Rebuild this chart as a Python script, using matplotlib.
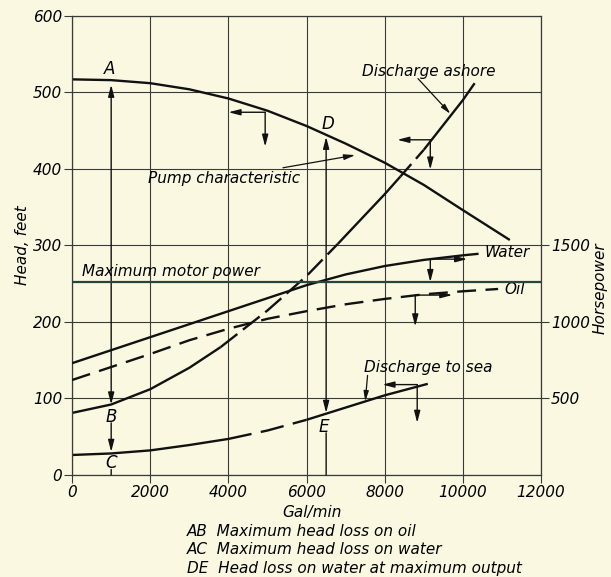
import numpy as np
import matplotlib
matplotlib.use("Agg")
import matplotlib.pyplot as plt

# flow in gal/min, head in feet, power in horsepower
pump_x = [0, 1000, 2000, 3000, 4000, 5000, 6000, 7000, 8000, 9000, 10000, 11200]
pump_h = [517, 516, 512, 504, 492, 476, 456, 433, 408, 379, 346, 307]

ashore_x = [0, 1000, 2000, 3000, 3800, 5000, 6000, 6800, 8000, 8400, 9000, 10000, 10300]
ashore_h = [81, 92, 112, 140, 167, 215, 260, 302, 367, 390, 425, 490, 512]

sea_x = [0, 1000, 2000, 3000, 4000, 5000, 6000, 7000, 8000, 9100]
sea_h = [26, 28, 32, 39, 47, 58, 72, 88, 104, 119]

water_x = [0, 1000, 2000, 3000, 4000, 5000, 6000, 7000, 8000, 9000, 10000, 10400]
water_hp = [730, 815, 900, 985, 1070, 1155, 1240, 1310, 1365, 1405, 1435, 1445]

oil_x = [0, 1000, 2000, 3000, 4000, 5000, 6000, 7000, 8000, 9000, 10000, 10900]
oil_hp = [620, 705, 790, 880, 955, 1020, 1070, 1115, 1150, 1180, 1200, 1215]

motor_hp = 1260

x_ticks = [0, 2000, 4000, 6000, 8000, 10000, 12000]
x_labels = ['0', '2000', '4000', '6000', '8000', '10000', '12000']
head_ticks = [0, 100, 200, 300, 400, 500, 600]
hp_ticks = [500, 1000, 1500]

bg = '#fbf8e2'
ink = '#111111'
plt.rcParams['font.family'] = ['DejaVu Sans']
plt.rcParams['font.style'] = 'italic'

fig = plt.figure(figsize=(6.11, 5.77), dpi=100, facecolor=bg)
ax = fig.add_axes([0.118, 0.177, 0.7676, 0.7955])
ax.set_facecolor(bg)
ax.set_xlim(0, 12000)
ax.set_ylim(0, 600)
ax.set_xticks(x_ticks)
ax.set_xticklabels(x_labels)
ax.set_yticks(head_ticks)
ax.grid(True, color='#3a3a3a', lw=0.8)
for s in ax.spines.values():
    s.set_color('#3a3a3a')
    s.set_linewidth(0.9)
ax.tick_params(direction='out', length=6, width=0.8, color='#3a3a3a', labelsize=11, pad=1)

ax2 = ax.twinx()
ax2.set_ylim(0, 3000)
ax2.set_yticks(hp_ticks)
ax2.tick_params(direction='out', length=6, width=0.8, color='#3a3a3a', labelsize=11, pad=1)
for s in ax2.spines.values():
    s.set_visible(False)

lw = 1.7

def seg(a, xs, ys, i0, i1, **kw):
    a.plot(xs[i0:i1 + 1], ys[i0:i1 + 1], color=ink, lw=lw, solid_capstyle='butt', **kw)

# pump characteristic
seg(ax, pump_x, pump_h, 0, len(pump_x) - 1)
# discharge ashore, dashed in the middle
seg(ax, ashore_x, ashore_h, 0, 4)
seg(ax, ashore_x, ashore_h, 4, 7, dashes=(9, 3))
seg(ax, ashore_x, ashore_h, 7, 9)
seg(ax, ashore_x, ashore_h, 9, 10, dashes=(7, 3))
seg(ax, ashore_x, ashore_h, 10, 12)
# discharge to sea
seg(ax, sea_x, sea_h, 0, 4)
seg(ax, sea_x, sea_h, 4, 6, dashes=(10, 4))
seg(ax, sea_x, sea_h, 6, 9)
# power curves
seg(ax2, water_x, water_hp, 0, len(water_x) - 1)
seg(ax2, oil_x, oil_hp, 0, len(oil_x) - 1, dashes=(8, 4))
ax2.axhline(motor_hp, color='#27463a', lw=1.6)

head = dict(arrowstyle='-|>,head_length=0.7,head_width=0.18', color=ink, lw=1.0,
            shrinkA=0, shrinkB=0)
plain = dict(arrowstyle='-', color=ink, lw=1.0, shrinkA=0, shrinkB=0)

def arr(tip, start, props=head):
    ax.annotate('', xy=tip, xytext=start, arrowprops=props)

# AB / BC lines
arr((1000, 510), (1000, 300))
arr((1000, 92), (1000, 300))
arr((1000, 30), (1000, 68))
arr((1000, 0), (1000, 7), plain)
# DE line
arr((6500, 442), (6500, 260))
arr((6500, 81), (6500, 260))
arr((6500, 0), (6500, 55), plain)

# reading arrows
for corner, side, down in [((4940, 474), (4000, 474), (4940, 429)),
                           ((9165, 438), (8320, 438), (9165, 399)),
                           ((9165, 282), (10110, 282), (9165, 252)),
                           ((8780, 235), (9730, 235), (8780, 194)),
                           ((8830, 118), (7940, 118), (8830, 68))]:
    arr(side, corner)
    arr(down, corner)

ptr = dict(arrowstyle='-|>,head_length=0.6,head_width=0.15', color=ink, lw=0.9,
           shrinkA=0, shrinkB=0)
fs = 11
ax.annotate('Pump characteristic', xy=(7245, 418), xytext=(1950, 388), fontsize=fs,
            va='center', ha='left', arrowprops=ptr)
ax.annotate('Discharge ashore', xy=(9680, 472), xytext=(7420, 527), fontsize=fs,
            va='center', ha='left')
arr((9680, 472), (8850, 518), ptr)
ax.text(7480, 140, 'Discharge to sea', fontsize=fs, va='center', ha='left')
arr((7500, 96), (7560, 130), ptr)
ax.text(250, 266, 'Maximum motor power', fontsize=fs, va='center', ha='left')
ax.text(10550, 291, 'Water', fontsize=fs, va='center', ha='left')
ax.text(11050, 242, 'Oil', fontsize=fs, va='center', ha='left')

for lab, x, y in [('A', 970, 530), ('B', 1000, 76), ('C', 1000, 15),
                  ('D', 6550, 458), ('E', 6430, 62)]:
    ax.text(x, y, lab, fontsize=fs + 1, ha='center', va='center')

ax.set_ylabel('Head, feet', fontsize=11, labelpad=2)
fig.text(0.982, 0.50, 'Horsepower', rotation=90, fontsize=11, ha='center', va='center')
fig.text(0.51, 1 - 512 / 577, 'Gal/min', fontsize=11, ha='center', va='center')
for i, line in enumerate(['AB  Maximum head loss on oil',
                          'AC  Maximum head loss on water',
                          'DE  Head loss on water at maximum output']):
    fig.text(187 / 611, 1 - (531 + 19 * i) / 577, line, fontsize=11, ha='left', va='center')

fig.savefig('out.png', dpi=100, facecolor=bg)
